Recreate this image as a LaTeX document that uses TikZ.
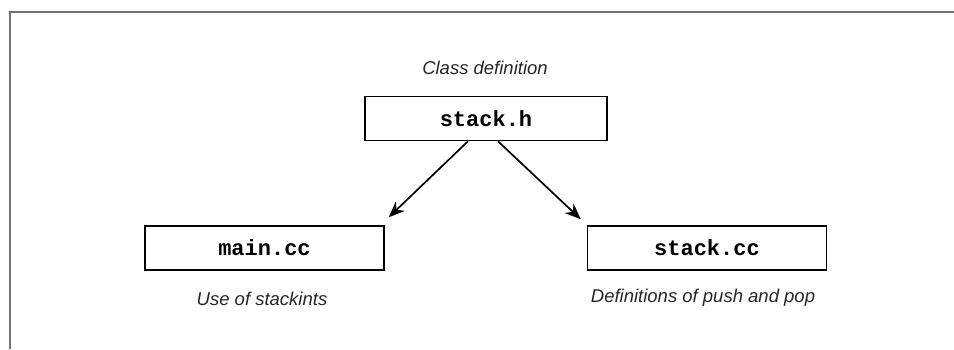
\documentclass[tikz,border=0pt]{standalone}
\usepackage{fontspec}
\setmainfont{Liberation Sans}
\setmonofont{Liberation Mono}
\usetikzlibrary{arrows.meta,calc}
\tikzset{
  filebox/.style={draw=black, line width=1.5pt, minimum width=#1, minimum height=44pt, inner sep=0pt,
    font=\fontsize{22}{24}\selectfont\ttfamily\bfseries},
  caption/.style={font=\fontsize{18.5}{20}\selectfont\itshape, inner sep=0pt, text=black!85},
  dep/.style={line width=1.7pt, -{Stealth[length=16pt,width=13pt]}},
  frame/.style={draw=black!55, line width=2pt}
}
\begin{document}
\begin{tikzpicture}[x=1pt,y=-1pt]
  \useasboundingbox (0,0) rectangle (954,349);
  \coordinate (fb) at (10,349);
  \coordinate (fc) at (10,12);
  \coordinate (fr) at (954,12);
  \draw[frame] (fb) -- (fc) -- (fr);
  \node[filebox=242pt] (sh) at (486,118.5) {stack.h};
  \node[filebox=239pt] (mc) at (264.5,248) {main.cc};
  \node[filebox=239pt] (sc) at (707,248) {stack.cc};
  \node[caption] (lsh) at (485,68) {Class definition};
  \node[caption] (lmc) at (262,299) {Use of stackints};
  \node[caption] (lsc) at (703,298) {Definitions of push and pop};
  \draw[dep] ([xshift=-18pt]sh.south) -- ([xshift=4pt,yshift=8pt]mc.north east);
  \draw[dep] ([xshift=12pt]sh.south) -- ([xshift=-6pt,yshift=6pt]sc.north west);
\end{tikzpicture}
\end{document}
